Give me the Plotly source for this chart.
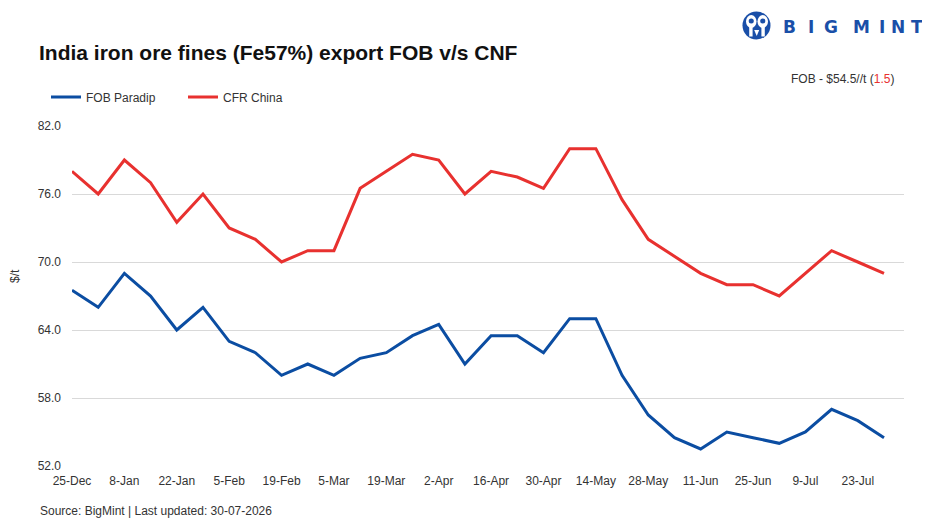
import plotly.graph_objects as go

weeks = ["25-Dec","1-Jan","8-Jan","15-Jan","22-Jan","29-Jan","5-Feb","12-Feb","19-Feb","26-Feb",
         "5-Mar","12-Mar","19-Mar","26-Mar","2-Apr","9-Apr","16-Apr","23-Apr","30-Apr","7-May",
         "14-May","21-May","28-May","4-Jun","11-Jun","18-Jun","25-Jun","2-Jul","9-Jul","16-Jul",
         "23-Jul","30-Jul"]
fob_paradip = [67.5,66,69,67,64,66,63,62,60,61,60,61.5,62,63.5,64.5,61,63.5,63.5,62,65,65,
               60,56.5,54.5,53.5,55,54.5,54,55,57,56,54.5]
cfr_china = [78,76,79,77,73.5,76,73,72,70,71,71,76.5,78,79.5,79,76,78,77.5,76.5,80,80,
             75.5,72,70.5,69,68,68,67,69,71,70,69]
tick_labels = weeks[::2]
y_ticks = [52, 58, 64, 70, 76, 82]

# the page body has an 8px margin, so the figure is laid out 8px up/left
OFF = 8
W, H = 930 - OFF, 525 - OFF
L, T = 72 - OFF, 126 - OFF
PLOT_R, PLOT_B = 904 - OFF, 466 - OFF
R, B = W - PLOT_R, H - PLOT_B
PW, PH = W - L - R, H - T - B

def px(x):
    return (x - OFF - L) / PW

def py(y):
    return (H - B - (y - OFF)) / PH

BLUE = "#0B4DA2"
RED = "#E8312F"
LOGO = "#1A4FA8"
FONT = "Liberation Sans, Arial, sans-serif"

fig = go.Figure()
fig.add_trace(go.Scatter(x=weeks, y=fob_paradip, mode="lines", name="FOB Paradip",
                         line=dict(color=BLUE, width=3)))
fig.add_trace(go.Scatter(x=weeks, y=cfr_china, mode="lines", name="CFR China",
                         line=dict(color=RED, width=3)))

fig.update_layout(
    width=W, height=H,
    margin=dict(l=L, r=R, t=T, b=B),
    paper_bgcolor="white", plot_bgcolor="white",
    font=dict(family=FONT, size=12, color="#333333"),
    showlegend=True,
    legend=dict(orientation="h", x=px(46), y=py(97), xanchor="left", yanchor="middle",
                xref="paper", yref="paper", font=dict(size=12, color="#333333"),
                itemwidth=30, entrywidth=92, entrywidthmode="pixels",
                bgcolor="rgba(0,0,0,0)"),
)
fig.update_xaxes(type="category", range=[0, (904 - 72) / ((884 - 72) / 31)],
                 tickmode="array", tickvals=tick_labels, ticktext=tick_labels,
                 showgrid=False, zeroline=False, showline=False, ticks="",
                 ticklabelstandoff=6,
                 tickfont=dict(size=12, color="#333333"))
fig.update_yaxes(range=[52, 82], tickmode="array", tickvals=y_ticks,
                 ticktext=[f"{v:.1f}" for v in y_ticks],
                 showgrid=True, gridcolor="#D9D9D9", gridwidth=1.3, zeroline=False,
                 showline=False, ticks="", ticklabelstandoff=10,
                 tickfont=dict(size=12, color="#333333"))

ann = [
    dict(text="<b>India iron ore fines (Fe57%) export FOB v/s CNF</b>", x=px(37), y=py(52),
         xanchor="left", yanchor="middle", font=dict(size=21, color="#111111")),
    dict(text="FOB - $54.5//t (<span style='color:#E8312F'>1.5</span>)", x=px(896), y=py(79),
         xanchor="right", yanchor="middle", font=dict(size=12, color="#333333")),
    dict(text="$/t", x=px(15), y=py(276), textangle=-90, xanchor="center", yanchor="middle",
         font=dict(size=12, color="#333333")),
    dict(text="Source: BigMint | Last updated: 30-07-2026", x=px(38), y=py(511),
         xanchor="left", yanchor="middle", font=dict(size=12, color="#333333")),
]
for letter, cx in zip("BIGMINT", [789, 810.5, 831, 861.5, 881.5, 898, 917]):
    ann.append(dict(text=f"<b>{letter}</b>", x=px(cx), y=py(27.5), xanchor="center",
                    yanchor="middle", font=dict(size=17, color=LOGO,
                                                family="DejaVu Sans, sans-serif")))
for a in ann:
    a.update(xref="paper", yref="paper", showarrow=False)
fig.update_layout(annotations=ann)

# logo icon
def circ(x0, x1, y0, y1, color):
    return dict(type="circle", x0=px(x0), x1=px(x1), y0=py(y0), y1=py(y1),
                fillcolor=color, line=dict(width=0))

def rect(x0, x1, y0, y1, color):
    return dict(type="rect", x0=px(x0), x1=px(x1), y0=py(y0), y1=py(y1),
                fillcolor=color, line=dict(width=0))

shapes = [
    circ(742.5, 770.5, 11.5, 39.5, LOGO),
    circ(746, 756.5, 15, 28, "white"),
    circ(757.5, 768, 15, 28, "white"),
    circ(748.7, 753.8, 18.5, 23.5, LOGO),
    circ(760.2, 765.3, 18.5, 23.5, LOGO),
    rect(749.2, 752.6, 25, 36.5, "white"),
    rect(761.4, 764.8, 25, 36.5, "white"),
    dict(type="path",
         path=f"M {px(754.2)},{py(30)} L {px(759.2)},{py(30)} L {px(756.7)},{py(36)} Z",
         fillcolor="white", line=dict(width=0)),
]
for s in shapes:
    s.update(xref="paper", yref="paper", layer="above")
fig.update_layout(shapes=shapes)

fig.write_html("out.html")
